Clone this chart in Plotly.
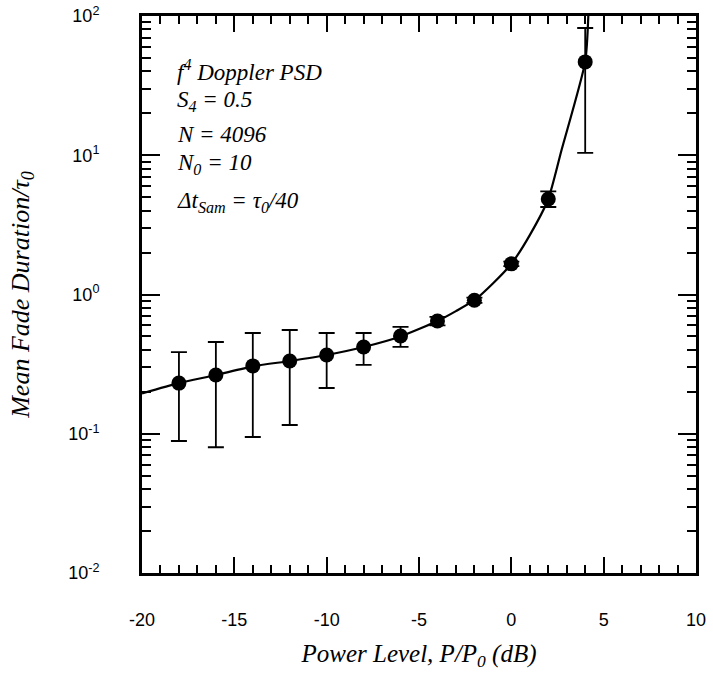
import plotly.graph_objects as go

# ---- data ----
power_db = [-18, -16, -14, -12, -10, -8, -6, -4, -2, 0, 2, 4]
mean_fade = [0.231, 0.264, 0.307, 0.333, 0.368, 0.42, 0.503, 0.645, 0.91, 1.66, 4.85, 46.8]
err_upper = [0.386, 0.456, 0.529, 0.556, 0.529, 0.529, 0.585, 0.69, 0.95, 1.72, 5.5, 82.0]
err_lower = [0.0887, 0.080, 0.0948, 0.1156, 0.213, 0.312, 0.42, 0.60, 0.87, 1.60, 4.25, 10.4]

curve_db = [-20, -18, -16, -14, -12, -10, -8, -6, -4, -3, -2, -1, 0, 1, 2, 2.72, 4.0, 4.18]
curve_val = [0.195, 0.231, 0.264, 0.305, 0.333, 0.368, 0.42, 0.50, 0.645, 0.76, 0.91, 1.2, 1.66,
             2.67, 4.85, 10.9, 47.0, 110.0]

y_major = [0.01, 0.1, 1, 10, 100]
y_major_text = ["10<sup>-2</sup>", "10<sup>-1</sup>", "10<sup>0</sup>", "10<sup>1</sup>", "10<sup>2</sup>"]
x_major = [-20, -15, -10, -5, 0, 5, 10]
x_major_text = ["-20", "-15", "-10", "-5", "0", "5", "10"]

# all tick positions (major + minor); minor ones get an empty label
x_all = list(range(-20, 11))
x_all_text = [x_major_text[x_major.index(v)] if v in x_major else "" for v in x_all]
y_all = [round(m * 10.0 ** e, 10) for e in range(-2, 2) for m in range(1, 10)] + [100]
y_all_text = [y_major_text[y_major.index(v)] if v in y_major else "" for v in y_all]

notes = [
    "<i>f<sup>4</sup> Doppler PSD</i>",
    "<i>S<sub>4</sub> = 0.5</i>",
    "<i>N = 4096</i>",
    "<i>N<sub>0</sub> = 10</i>",
    "<i>\u0394t<sub>Sam</sub> = \u03c4<sub>0</sub>/40</i>",
]
note_ypix = [70, 101, 134, 164, 202]

err_plus = [u - v for u, v in zip(err_upper, mean_fade)]
err_minus = [v - l for v, l in zip(mean_fade, err_lower)]

W, H = 713, 688
L, R, T, B = 142, 17, 16, 115
plot_h = H - T - B

fig = go.Figure()
fig.add_trace(go.Scatter(
    x=curve_db, y=curve_val, mode="lines",
    line=dict(color="black", width=2.2, shape="spline", smoothing=0.6),
    showlegend=False, hoverinfo="skip",
))
fig.add_trace(go.Scatter(
    x=power_db, y=mean_fade, mode="markers",
    marker=dict(color="black", size=15, symbol="circle"),
    error_y=dict(type="data", symmetric=False, array=err_plus, arrayminus=err_minus,
                 color="black", thickness=1.8, width=8),
    showlegend=False,
))
# invisible trace so the overlay axes carrying the long major ticks are drawn
fig.add_trace(go.Scatter(
    x=power_db, y=mean_fade, xaxis="x2", yaxis="y2", mode="markers",
    marker=dict(opacity=0), showlegend=False, hoverinfo="skip",
))

serif = "Liberation Serif"
sans = "Liberation Sans"

for txt, yp in zip(notes, note_ypix):
    fig.add_annotation(
        x=(175 - L) / (W - L - R), xref="paper", xanchor="left",
        y=(H - B - yp) / plot_h, yref="paper", yanchor="middle",
        text=txt, showarrow=False,
        font=dict(family=serif, size=23, color="black"),
    )

common = dict(tickcolor="black", showgrid=False, zeroline=False, automargin=False,
              showline=True, linewidth=3, linecolor="black", mirror="ticks")

fig.update_layout(
    width=W, height=H,
    margin=dict(l=L, r=R, t=T, b=B, autoexpand=False),
    paper_bgcolor="white", plot_bgcolor="white",
    xaxis=dict(
        range=[-20, 10], tickmode="array", tickvals=x_all, ticktext=x_all_text,
        ticks="inside", ticklen=8, tickwidth=2,
        tickfont=dict(family=sans, size=18, color="black"),
        ticklabelstandoff=28,
        title=dict(text="<i>Power Level, P/P<sub>0</sub> (dB)</i>",
                   font=dict(family=serif, size=25, color="black"), standoff=16),
        **common,
    ),
    xaxis2=dict(
        range=[-20, 10], overlaying="x", side="bottom", anchor="y",
        tickmode="array", tickvals=x_major, showticklabels=False,
        ticks="inside", ticklen=16, tickwidth=2,
        **common,
    ),
    yaxis=dict(
        type="log", range=[-2, 2], tickmode="array", tickvals=y_all, ticktext=y_all_text,
        ticks="inside", ticklen=9, tickwidth=2,
        tickfont=dict(family=sans, size=18, color="black"),
        ticklabelstandoff=36,
        title=dict(text="<i>Mean Fade Duration/\u03c4<sub>0</sub></i>",
                   font=dict(family=serif, size=26, color="black"), standoff=32),
        **common,
    ),
    yaxis2=dict(
        type="log", range=[-2, 2], overlaying="y", side="left", anchor="x",
        tickmode="array", tickvals=y_major, showticklabels=False,
        ticks="inside", ticklen=18, tickwidth=2,
        **common,
    ),
)

fig.write_html("out.html")
